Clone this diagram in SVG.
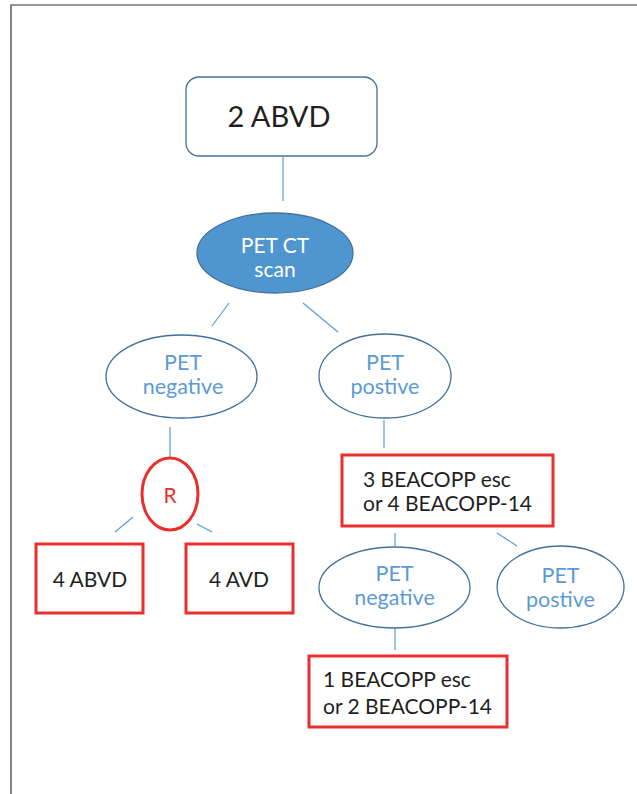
<svg xmlns="http://www.w3.org/2000/svg" width="637" height="794" viewBox="0 0 637 794">
<style>
.t{font-family:Lato,"Liberation Sans",sans-serif;font-size:21px}
.blk{fill:#1f1f1f}
.blu{fill:#5b9bd5;text-anchor:middle;font-size:21.5px}
.wht{fill:#ffffff;text-anchor:middle}
.red{fill:#e8302f;text-anchor:middle}
.ell{fill:#ffffff;stroke:#41719c;stroke-width:1.3}
.rbox{fill:#ffffff;stroke:#e8302f;stroke-width:3}
.con line{stroke:#5b9bd5;stroke-width:1.2}
</style>
<rect width="637" height="794" fill="#ffffff"/>
<path d="M11 794 V5 H637" fill="none" stroke="#333333" stroke-width="1.2"/>
<g class="con">
<line x1="283" y1="157" x2="283" y2="201"/>
<line x1="229" y1="303" x2="212" y2="326"/>
<line x1="303" y1="303" x2="338" y2="332"/>
<line x1="170" y1="427" x2="170" y2="457"/>
<line x1="133" y1="517" x2="115" y2="532"/>
<line x1="197" y1="524" x2="212" y2="532"/>
<line x1="384" y1="420" x2="384" y2="448"/>
<line x1="395" y1="533" x2="395" y2="546"/>
<line x1="497" y1="533" x2="517" y2="546"/>
<line x1="395" y1="628" x2="395" y2="650"/>
</g>
<g id="n-2abvd">
<rect x="186" y="77" width="191" height="79" rx="13" fill="#ffffff" stroke="#41719c" stroke-width="1.3"/>
<text class="t blk" x="279" y="127" text-anchor="middle" style="font-size:29px">2 ABVD</text>
</g>
<g id="n-petct">
<ellipse cx="275" cy="253" rx="78" ry="40" fill="#4f95d0" stroke="#41719c" stroke-width="1.3"/>
<text class="t wht" x="275" y="253">PET CT<tspan x="275" y="277">scan</tspan></text>
</g>
<g id="n-petneg1">
<ellipse class="ell" cx="181.5" cy="376.5" rx="75.5" ry="41.5"/>
<text class="t blu" x="183" y="370">PET<tspan x="183" y="394">negative</tspan></text>
</g>
<g id="n-petpos1">
<ellipse class="ell" cx="385" cy="376" rx="66" ry="42"/>
<text class="t blu" x="385" y="370">PET<tspan x="385" y="394">postive</tspan></text>
</g>
<g id="n-r">
<ellipse cx="170" cy="494" rx="28" ry="36" fill="#ffffff" stroke="#e8302f" stroke-width="3"/>
<text class="t red" x="170" y="503">R</text>
</g>
<g id="n-4abvd">
<rect class="rbox" x="36" y="544" width="107" height="69"/>
<text class="t blk" x="90" y="587" text-anchor="middle">4 ABVD</text>
</g>
<g id="n-4avd">
<rect class="rbox" x="186" y="544" width="107" height="69"/>
<text class="t blk" x="239" y="587" text-anchor="middle">4 AVD</text>
</g>
<g id="n-3beacopp">
<rect class="rbox" x="342" y="455" width="211" height="71"/>
<text class="t blk" x="363" y="487">3 BEACOPP esc<tspan x="363" y="511">or 4 BEACOPP-14</tspan></text>
</g>
<g id="n-petneg2">
<ellipse class="ell" cx="394.5" cy="587.5" rx="75.5" ry="40.5"/>
<text class="t blu" x="394.5" y="581">PET<tspan x="394.5" y="605">negative</tspan></text>
</g>
<g id="n-petpos2">
<ellipse class="ell" cx="560.5" cy="587" rx="63.5" ry="41"/>
<text class="t blu" x="560.5" y="583">PET<tspan x="560.5" y="607">postive</tspan></text>
</g>
<g id="n-1beacopp">
<rect class="rbox" x="309" y="656" width="198" height="71"/>
<text class="t blk" x="323" y="687">1 BEACOPP esc<tspan x="323" y="714">or 2 BEACOPP-14</tspan></text>
</g>
</svg>
